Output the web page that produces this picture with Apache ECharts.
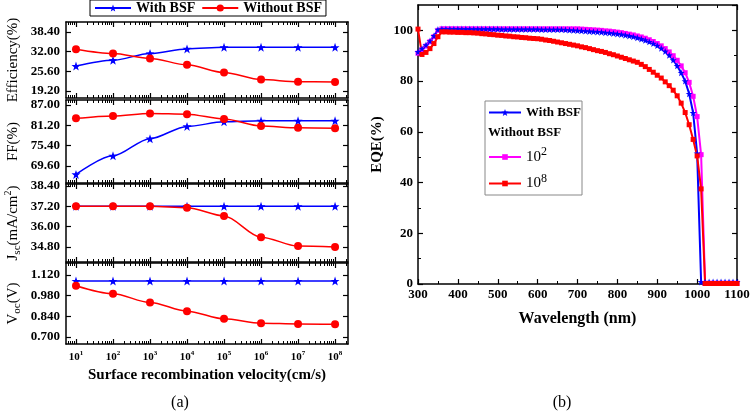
<!DOCTYPE html>
<html>
<head>
<meta charset="utf-8">
<title>BSF</title>
<script src="https://cdn.jsdelivr.net/npm/echarts@6/dist/echarts.min.js"></script>
<style>html,body{margin:0;padding:0;background:#fff}#main{width:750px;height:414px}</style>
</head>
<body>
<div id="main"></div>
<script>
// (a) surface recombination velocity 10^n cm/s, n below
var srvExp = [1, 2, 3, 4, 5, 6, 7, 8];
var effWith = [27.3, 29.2, 31.4, 32.9, 33.4, 33.4, 33.4, 33.4];
var effWithout = [32.8, 31.4, 29.8, 27.7, 25.2, 22.9, 22.2, 22.1];
var ffWith = [67.2, 72.5, 77.4, 80.9, 82.2, 82.5, 82.5, 82.5];
var ffWithout = [83.2, 83.9, 84.6, 84.4, 83.0, 81.0, 80.5, 80.4];
var jscWith = [37.2, 37.2, 37.2, 37.2, 37.2, 37.2, 37.2, 37.2];
var jscWithout = [37.2, 37.2, 37.2, 37.12, 36.63, 35.38, 34.85, 34.79];
var vocWith = [1.079, 1.079, 1.079, 1.079, 1.079, 1.079, 1.079, 1.079];
var vocWithout = [1.047, 0.993, 0.934, 0.875, 0.823, 0.793, 0.789, 0.786];

var effTicks = [19.2, 25.6, 32.0, 38.4];
var ffTicks = [69.6, 75.4, 81.2, 87.0];
var jscTicks = [34.8, 36.0, 37.2, 38.4];
var vocTicks = [0.70, 0.84, 0.98, 1.12];

// (b) EQE vs wavelength
var wavelength = [300, 310, 320, 330, 340, 350, 360, 370, 380, 390,
  400, 410, 420, 430, 440, 450, 460, 470, 480, 490,
  500, 510, 520, 530, 540, 550, 560, 570, 580, 590,
  600, 610, 620, 630, 640, 650, 660, 670, 680, 690,
  700, 710, 720, 730, 740, 750, 760, 770, 780, 790,
  800, 810, 820, 830, 840, 850, 860, 870, 880, 890,
  900, 910, 920, 930, 940, 950, 960, 970, 980, 990,
  1000, 1010, 1020, 1030, 1040, 1050, 1060, 1070, 1080, 1090, 1100];
var eqeWith = [91.5, 92.8, 94.2, 95.8, 97.8, 100.3, 100.5, 100.5, 100.5, 100.5,
  100.5, 100.5, 100.5, 100.5, 100.5, 100.5, 100.5, 100.5, 100.5, 100.5,
  100.5, 100.4, 100.4, 100.4, 100.4, 100.4, 100.4, 100.4, 100.4, 100.4,
  100.4, 100.3, 100.3, 100.3, 100.3, 100.3, 100.3, 100.2, 100.1, 100.0,
  99.9, 99.8, 99.7, 99.6, 99.5, 99.4, 99.3, 99.1, 99.0, 98.8,
  98.6, 98.4, 98.1, 97.8, 97.5, 97.1, 96.6, 96.1, 95.5, 94.8,
  94.0, 92.9, 91.7, 90.2, 88.3, 86.0, 83.3, 80.0, 75.0, 67.5,
  51.5, 0.8, 0.8, 0.8, 0.8, 0.8, 0.8, 0.8, 0.8, 0.8, 0.8];
var eqe1e2 = [91.0, 92.3, 93.8, 95.5, 97.5, 100.0, 100.6, 100.6, 100.6, 100.6,
  100.6, 100.6, 100.6, 100.6, 100.6, 100.6, 100.6, 100.6, 100.6, 100.6,
  100.6, 100.6, 100.6, 100.6, 100.6, 100.6, 100.6, 100.6, 100.6, 100.6,
  100.6, 100.6, 100.6, 100.6, 100.6, 100.6, 100.6, 100.6, 100.6, 100.6,
  100.6, 100.5, 100.4, 100.3, 100.2, 100.1, 100.0, 99.8, 99.7, 99.5,
  99.3, 99.1, 98.8, 98.5, 98.2, 97.8, 97.4, 96.9, 96.3, 95.6,
  94.8, 93.9, 92.8, 91.5, 90.0, 88.2, 86.0, 83.3, 79.5, 74.0,
  66.0, 51.0, 0.3, 0.3, 0.3, 0.3, 0.3, 0.3, 0.3, 0.3, 0.3];
var eqe1e8 = [100.5, 90.5, 91.3, 92.8, 94.8, 97.5, 99.4, 99.4, 99.3, 99.3,
  99.2, 99.2, 99.1, 99.1, 99.0, 98.9, 98.7, 98.6, 98.4, 98.3,
  98.1, 98.0, 97.8, 97.7, 97.5, 97.4, 97.2, 97.1, 96.9, 96.8,
  96.7, 96.5, 96.2, 96.0, 95.7, 95.4, 95.1, 94.8, 94.5, 94.2,
  93.9, 93.5, 93.2, 92.8, 92.4, 92.0, 91.7, 91.3, 90.8, 90.4,
  89.9, 89.4, 88.9, 88.4, 87.9, 87.4, 86.6, 85.7, 84.6, 83.5,
  82.3, 81.2, 79.7, 78.2, 76.4, 74.2, 71.3, 67.6, 62.8, 57.0,
  50.5, 37.5, 0.2, 0.2, 0.2, 0.2, 0.2, 0.2, 0.2, 0.2, 0.2];

var serif = '"Liberation Serif", "Times New Roman", serif';
var star = 'path://M0,-10L2.35,-3.24L9.51,-3.09L3.8,1.24L5.88,8.09L0,4L-5.88,8.09L-3.8,1.24L-9.51,-3.09L-2.35,-3.24Z';
var blue = '#0000ff', red = '#ff0000', pink = '#ff00ff';

var chart = echarts.init(document.getElementById('main'));

// log-style minor ticks between decades
var decMinor = [];
for (var d = 0; d <= 8; d++) {
  for (var m = 2; m <= 9; m++) {
    var p = d + Math.log10(m);
    if (p > 0.73 && p < 8.35) decMinor.push(p);
  }
}

var panels = [
  { top: 22, height: 76, min: 16.92, max: 41.65, ticks: effTicks, dec: 2, name: 'Efficiency(%)', gap: 45, w: effWith, wo: effWithout },
  { top: 100, height: 83, min: 64.75, max: 88.43, ticks: ffTicks, dec: 2, name: 'FF(%)', gap: 45, w: ffWith, wo: ffWithout },
  { top: 184, height: 78, min: 33.91, max: 38.52, ticks: jscTicks, dec: 2, name: '{n|J}{b|sc}{n|(mA/cm}{p|2}{n|)}', gap: 43, w: jscWith, wo: jscWithout },
  { top: 263, height: 81, min: 0.653, max: 1.201, ticks: vocTicks, dec: 3, name: '{n|V}{b|oc}{n|(V)}', gap: 43, w: vocWith, wo: vocWithout }
];

var axisLine = { show: true, onZero: false, lineStyle: { color: '#000', width: 1.5 } };
var grid = [], xAxis = [], yAxis = [], series = [];

panels.forEach(function (p, i) {
  grid.push({ left: 66, top: p.top, width: 282, height: p.height, outerBoundsMode: 'none' });
  var last = i === panels.length - 1;
  ['bottom', 'top'].forEach(function (pos) {
    xAxis.push({
      type: 'value', gridIndex: i, position: pos, min: 0.73, max: 8.35,
      axisLine: axisLine, splitLine: { show: false },
      axisTick: { inside: true, length: 5, customValues: srvExp, lineStyle: { color: '#000', width: 1.2 } },
      axisLabel: {
        show: last && pos === 'bottom', customValues: srvExp, margin: 6,
        formatter: function (v) { return '{b|10}{s|' + v + '}'; },
        rich: {
          b: { fontFamily: serif, fontWeight: 'bold', fontSize: 11, lineHeight: 14, color: '#000' },
          s: { fontFamily: serif, fontWeight: 'bold', fontSize: 7, lineHeight: 7, verticalAlign: 'top', color: '#000' }
        }
      },
      name: last && pos === 'bottom' ? 'Surface recombination velocity(cm/s)' : '',
      nameLocation: 'middle', nameGap: 24,
      nameTextStyle: { fontFamily: serif, fontWeight: 'bold', fontSize: 15, color: '#000' }
    });
    xAxis.push({
      type: 'value', gridIndex: i, position: pos, min: 0.73, max: 8.35,
      axisLine: { show: false }, splitLine: { show: false }, axisLabel: { show: false },
      axisTick: { inside: true, length: 3, customValues: decMinor, lineStyle: { color: '#000', width: 1 } }
    });
  });
  ['left', 'right'].forEach(function (pos) {
    yAxis.push({
      type: 'value', gridIndex: i, position: pos, min: p.min, max: p.max,
      axisLine: axisLine, splitLine: { show: false },
      axisTick: { inside: true, length: 5, customValues: p.ticks, lineStyle: { color: '#000', width: 1.2 } },
      axisLabel: {
        show: pos === 'left', customValues: p.ticks, margin: 6,
        fontFamily: serif, fontWeight: 'bold', fontSize: 13, color: '#000',
        formatter: (function (dec) { return function (v) { return v.toFixed(dec); }; })(p.dec)
      },
      name: pos === 'left' ? p.name : '', nameLocation: 'middle', nameGap: p.gap,
      nameTextStyle: {
        fontFamily: serif, fontSize: 15, color: '#000',
        rich: {
          n: { fontFamily: serif, fontSize: 15, lineHeight: 20, color: '#000' },
          b: { fontFamily: serif, fontSize: 11, lineHeight: 11, verticalAlign: 'bottom', color: '#000' },
          p: { fontFamily: serif, fontSize: 10, lineHeight: 10, verticalAlign: 'top', color: '#000' }
        }
      }
    });
  });
  series.push({
    name: 'With BSF', type: 'line', xAxisIndex: 4 * i, yAxisIndex: 2 * i,
    data: srvExp.map(function (e, k) { return [e, p.w[k]]; }),
    smooth: 0.3, smoothMonotone: 'x', symbol: star, symbolSize: 9,
    itemStyle: { color: blue }, lineStyle: { color: blue, width: 1.5 }
  });
  series.push({
    name: 'Without BSF', type: 'line', xAxisIndex: 4 * i, yAxisIndex: 2 * i,
    data: srvExp.map(function (e, k) { return [e, p.wo[k]]; }),
    smooth: 0.3, smoothMonotone: 'x', symbol: 'circle', symbolSize: 8,
    itemStyle: { color: red }, lineStyle: { color: red, width: 1.5 }
  });
});

// right panel (b)
grid.push({ left: 418, top: 5, width: 319, height: 279, outerBoundsMode: 'none' });
var gi = 4, xi = xAxis.length, yi = yAxis.length;
['bottom', 'top'].forEach(function (pos) {
  xAxis.push({
    type: 'value', gridIndex: gi, position: pos, min: 300, max: 1100, interval: 100,
    axisLine: axisLine, splitLine: { show: false },
    axisTick: { inside: true, length: 5, lineStyle: { color: '#000', width: 1.2 } },
    minorTick: { show: true, splitNumber: 2, length: 3, lineStyle: { color: '#000', width: 1 } },
    axisLabel: {
      show: pos === 'bottom', margin: 4, fontFamily: serif, fontWeight: 'bold', fontSize: 13, color: '#000',
      formatter: function (v) { return String(v); }
    },
    name: pos === 'bottom' ? 'Wavelength (nm)' : '', nameLocation: 'middle', nameGap: 27,
    nameTextStyle: { fontFamily: serif, fontWeight: 'bold', fontSize: 16, color: '#000' }
  });
});
['left', 'right'].forEach(function (pos) {
  yAxis.push({
    type: 'value', gridIndex: gi, position: pos, min: 0, max: 110, interval: 20,
    axisLine: axisLine, splitLine: { show: false },
    axisTick: { inside: true, length: 5, lineStyle: { color: '#000', width: 1.2 } },
    axisLabel: { show: pos === 'left', showMaxLabel: false, margin: 5, fontFamily: serif, fontWeight: 'bold', fontSize: 13, color: '#000' },
    name: pos === 'left' ? 'EQE(%)' : '', nameLocation: 'middle', nameGap: 33,
    nameTextStyle: { fontFamily: serif, fontWeight: 'bold', fontSize: 15, color: '#000' }
  });
  yAxis.push({
    type: 'value', gridIndex: gi, position: pos, min: 0, max: 110,
    axisLine: { show: false }, splitLine: { show: false }, axisLabel: { show: false },
    axisTick: { inside: true, length: 3, customValues: [10, 30, 50, 70, 90], lineStyle: { color: '#000', width: 1 } }
  });
});

function eqeSeries(name, vals, symbol, size, color) {
  return {
    name: name, type: 'line', xAxisIndex: xi, yAxisIndex: yi,
    data: wavelength.map(function (w, k) { return [w, vals[k]]; }),
    symbol: symbol, symbolSize: size,
    itemStyle: { color: color }, lineStyle: { color: color, width: 2 }
  };
}
series.push(eqeSeries('10^2', eqe1e2, 'rect', 5, pink));
series.push(eqeSeries('With BSF', eqeWith, star, 7, blue));
series.push(eqeSeries('10^8', eqe1e8, 'rect', 5, red));

var legText = { fontFamily: serif, fontWeight: 'bold', fontSize: 13, color: '#000' };
chart.setOption({
  backgroundColor: '#fff',
  animation: false,
  grid: grid,
  xAxis: xAxis,
  yAxis: yAxis,
  series: series,
  legend: [
    {
      data: ['With BSF', 'Without BSF'], left: 90, top: 0, orient: 'horizontal',
      selectedMode: false, itemWidth: 36, itemHeight: 9, itemGap: 6,
      borderColor: '#000', borderWidth: 1, padding: [1, 4, 1, 4],
      textStyle: { fontFamily: serif, fontWeight: 'bold', fontSize: 14, color: '#000' }
    },
    {
      data: ['With BSF'], left: 488, top: 106, selectedMode: false,
      itemWidth: 32, itemHeight: 9, padding: 0, textStyle: legText
    },
    {
      data: ['10^2', '10^8'], left: 488, top: 146, orient: 'vertical', selectedMode: false,
      itemWidth: 32, itemHeight: 7, itemGap: 8, padding: 0,
      formatter: function (n) { return '{n|10}{s|' + n.split('^')[1] + '}'; },
      textStyle: {
        rich: {
          n: { fontFamily: serif, fontSize: 15, lineHeight: 22, color: '#000' },
          s: { fontFamily: serif, fontSize: 12, lineHeight: 12, verticalAlign: 'top', color: '#000' }
        }
      }
    }
  ],
  graphic: [
    { type: 'rect', shape: { x: 485, y: 101, width: 97, height: 94 }, style: { fill: 'none', stroke: '#888', lineWidth: 1 }, z: 10 },
    { type: 'text', x: 488, y: 133, style: { text: 'Without BSF', font: 'bold 13px ' + serif, fill: '#000', verticalAlign: 'middle' }, z: 10 },
    { type: 'text', x: 180, y: 403, style: { text: '(a)', font: '16px ' + serif, fill: '#000', align: 'center', verticalAlign: 'middle' } },
    { type: 'text', x: 562, y: 403, style: { text: '(b)', font: '16px ' + serif, fill: '#000', align: 'center', verticalAlign: 'middle' } }
  ]
});
</script>
</body>
</html>
